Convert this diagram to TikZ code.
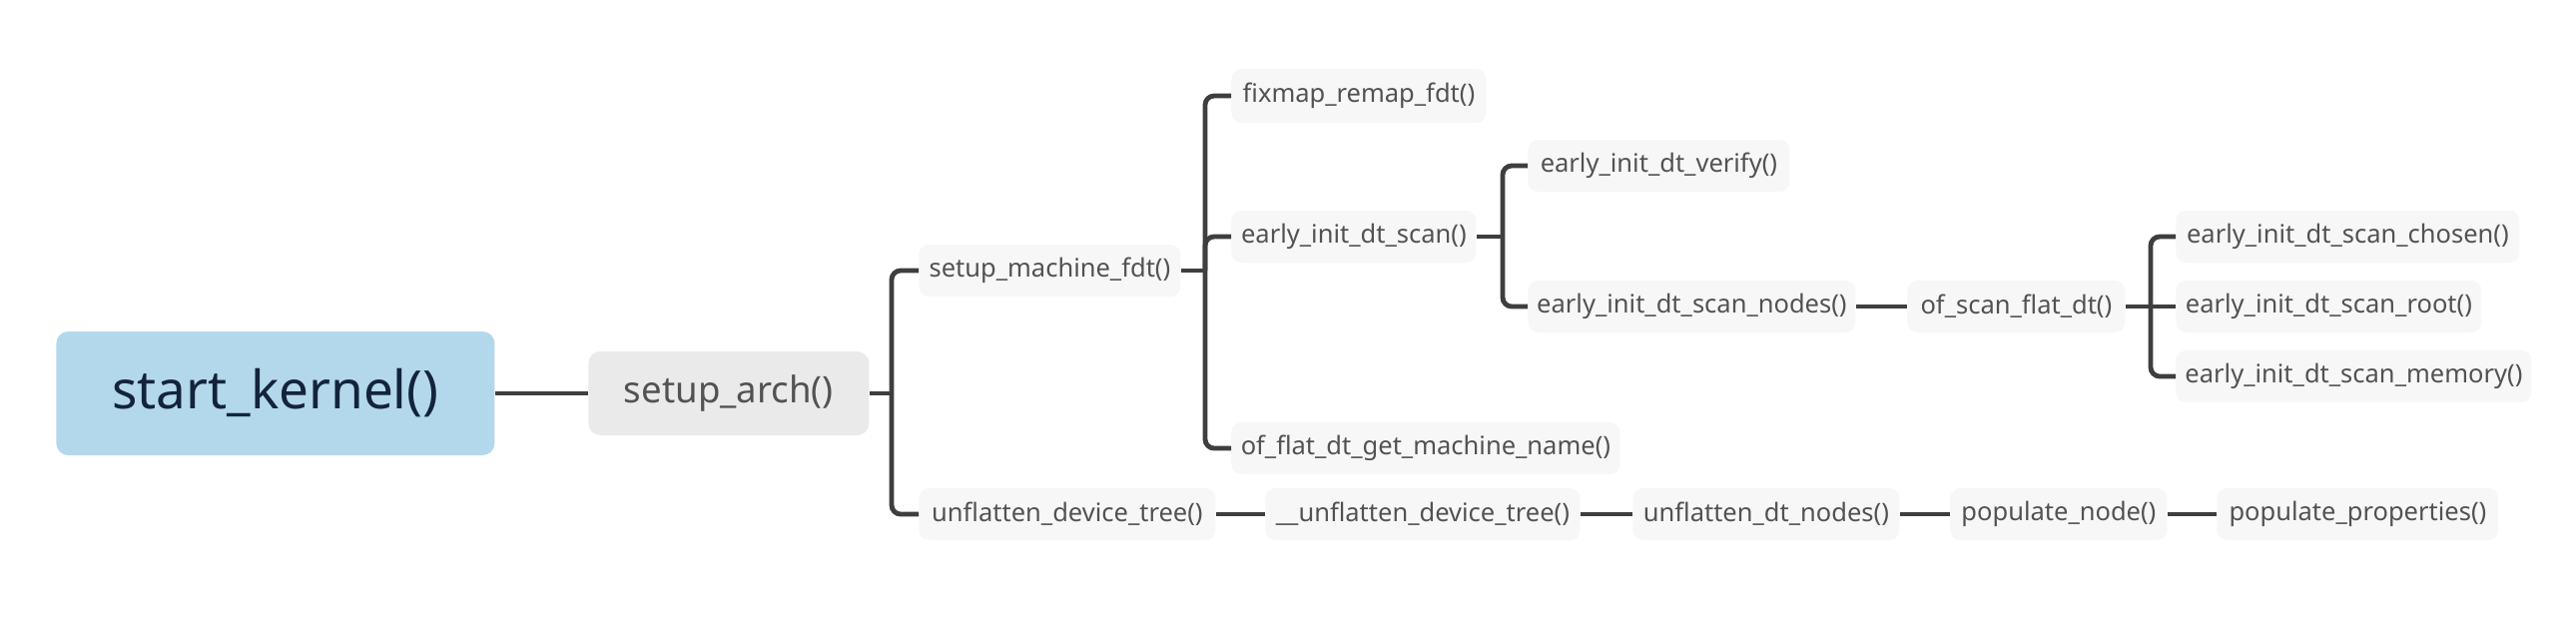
\documentclass[tikz,border=0pt]{standalone}
\usepackage{fontspec}
\setmainfont{Noto Sans}
\definecolor{rootfill}{HTML}{B3D8EC}
\definecolor{roottext}{HTML}{13243A}
\definecolor{mainfill}{HTML}{EAEAEA}
\definecolor{leaffill}{HTML}{F7F7F7}
\definecolor{nodetext}{HTML}{525252}
\definecolor{linecol}{HTML}{3E3E3E}
\begin{document}
\begin{tikzpicture}[x=0.5pt,y=-0.5pt,
  base/.style={anchor=west, inner sep=0pt, rounded corners=6pt, align=center},
  rootnode/.style={base, fill=rootfill, text=roottext, font=\fontsize{26.5}{30}\selectfont, minimum height=62pt},
  mainnode/.style={base, fill=mainfill, text=nodetext, font=\fontsize{18.3}{22}\selectfont, minimum height=42pt},
  leaf/.style={base, fill=leaffill, text=nodetext, font=\fontsize{12.75}{15}\selectfont, minimum height=26pt, rounded corners=5pt},
  conn/.style={draw=linecol, line width=2.4pt},
  brk/.style={conn, rounded corners=4.5pt}]
\useasboundingbox[fill=white] (0,0) rectangle (2580,618);

% nodes
\node[rootnode, minimum width=219.5pt] (sk) at (56,394) {start\_kernel()};
\node[mainnode, minimum width=140.5pt] (sa) at (589,394) {setup\_arch()};

\node[leaf, minimum width=131pt] (smf) at (920,271) {setup\_machine\_fdt()};
\node[leaf, minimum width=148.5pt] (udt) at (920,515) {unflatten\_device\_tree()};

\node[leaf, minimum width=127.5pt, minimum height=27pt] (fix) at (1233,96) {fixmap\_remap\_fdt()};
\node[leaf, minimum width=122.5pt] (eids) at (1233,237) {early\_init\_dt\_scan()};
\node[leaf, minimum width=194.5pt] (ofgmn) at (1233,449) {of\_flat\_dt\_get\_machine\_name()};

\node[leaf, minimum width=131pt] (eidv) at (1530,166) {early\_init\_dt\_verify()};
\node[leaf, minimum width=164pt] (eidsn) at (1530,307) {early\_init\_dt\_scan\_nodes()};
\node[leaf, minimum width=109pt] (osfd) at (1910,307) {of\_scan\_flat\_dt()};

\node[leaf, minimum width=172pt] (chosen) at (2179,237) {early\_init\_dt\_scan\_chosen()};
\node[leaf, minimum width=153pt] (root) at (2179,307) {early\_init\_dt\_scan\_root()};
\node[leaf, minimum width=178pt] (memory) at (2179,377) {early\_init\_dt\_scan\_memory()};

\node[leaf, minimum width=157.5pt] (uudt) at (1267,515) {\_\_unflatten\_device\_tree()};
\node[leaf, minimum width=133.5pt] (udn) at (1635,515) {unflatten\_dt\_nodes()};
\node[leaf, minimum width=108.5pt] (pn) at (1953,515) {populate\_node()};
\node[leaf, minimum width=141pt] (pp) at (2220,515) {populate\_properties()};

% bracket junctions
\coordinate (j1) at (893,394);
\coordinate (j2) at (1207,271);
\coordinate (j3) at (1505,237);
\coordinate (j4) at (2154,307);

% connectors
\draw[conn] (sk.east) -- (sa.west);

\draw[conn] (sa.east) -- (j1);
\draw[brk] (j1) |- (smf.west);
\draw[brk] (j1) |- (udt.west);

\draw[conn] (smf.east) -- (j2);
\draw[brk] (j2) |- (fix.west);
\draw[brk] (j2) |- (eids.west);
\draw[brk] (j2) |- (ofgmn.west);

\draw[conn] (eids.east) -- (j3);
\draw[brk] (j3) |- (eidv.west);
\draw[brk] (j3) |- (eidsn.west);

\draw[conn] (eidsn.east) -- (osfd.west);

\draw[conn] (osfd.east) -- (j4);
\draw[brk] (j4) |- (chosen.west);
\draw[conn] (j4) -- (root.west);
\draw[brk] (j4) |- (memory.west);

\draw[conn] (udt.east) -- (uudt.west);
\draw[conn] (uudt.east) -- (udn.west);
\draw[conn] (udn.east) -- (pn.west);
\draw[conn] (pn.east) -- (pp.west);
\end{tikzpicture}
\end{document}
